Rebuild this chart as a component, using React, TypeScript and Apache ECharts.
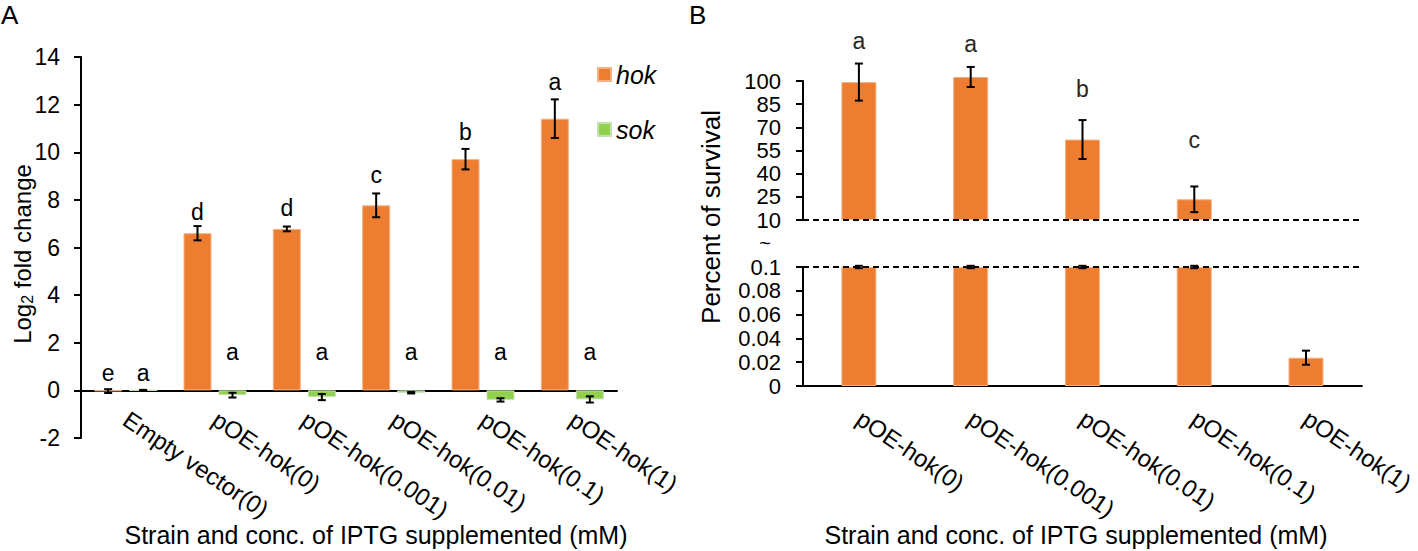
import React, { useEffect, useRef } from 'react';
import * as echarts from 'echarts';

// ---------- Panel A data ----------
const categoriesA = ['Empty vector(0)', 'pOE-hok(0)', 'pOE-hok(0.001)', 'pOE-hok(0.01)', 'pOE-hok(0.1)', 'pOE-hok(1)'];
const hokValues = [-0.03, 6.6, 6.78, 7.77, 9.71, 11.41];
const hokErrors = [0.08, 0.3, 0.1, 0.5, 0.43, 0.81];
const sokValues = [0, -0.2, -0.28, -0.1, -0.4, -0.38];
const sokErrors = [0.02, 0.1, 0.13, 0.03, 0.07, 0.13];
const hokLetters = ['e', 'd', 'd', 'c', 'b', 'a'];
const hokLetterAt = [0.75, 7.5, 7.67, 9.05, 10.85, 12.95];
const sokLetters = ['a', 'a', 'a', 'a', 'a', 'a'];
const sokLetterAt = [0.75, 1.63, 1.63, 1.63, 1.63, 1.63];
const yTicksA = { min: -2, max: 14, interval: 2 };

// ---------- Panel B data ----------
const categoriesB = ['pOE-hok(0)', 'pOE-hok(0.001)', 'pOE-hok(0.01)', 'pOE-hok(0.1)', 'pOE-hok(1)'];
const survivalUpper = [99.3, 102.6, 62.1, 23.4, null];
const survivalUpperErr = [12, 6.5, 12.6, 8.3, null];
const survivalLower = [0.1, 0.1, 0.1, 0.1, 0.0238];
const survivalLowerErr = [0.001, 0.001, 0.001, 0.001, 0.0059];
const survivalLetters = ['a', 'a', 'b', 'c', ''];
const survivalLetterAt = [126, 124, 95, 61.7, null];
const yTicksBUpper = { min: 10, max: 100, interval: 15 };
const yTicksBLower = { min: 0, max: 0.1, interval: 0.02 };

const FONT = '"Liberation Sans", Arial, Helvetica, sans-serif';
const ORANGE = '#ED7D31';
const GREEN = '#92D050';

function errorSeries(name: string, xi: number, yi: number, vals: (number | null)[], errs: (number | null)[], offset: number) {
  return {
    type: 'custom',
    name,
    xAxisIndex: xi,
    yAxisIndex: yi,
    clip: false,
    z: 5,
    data: vals.map((v, i) => (v == null ? [i, NaN, NaN] : [i, v, errs[i]])),
    renderItem: (params: any, api: any) => {
      const i = api.value(0);
      const v = api.value(1);
      const e = api.value(2);
      if (isNaN(v)) return null;
      const top = api.coord([i, v + e]);
      const bot = api.coord([i, v - e]);
      const x = top[0] + offset;
      const st = { stroke: '#000', lineWidth: 2 };
      return {
        type: 'group',
        children: [
          { type: 'line', shape: { x1: x, y1: top[1], x2: x, y2: bot[1] }, style: st },
          { type: 'line', shape: { x1: x - 4, y1: top[1], x2: x + 4, y2: top[1] }, style: st },
          { type: 'line', shape: { x1: x - 4, y1: bot[1], x2: x + 4, y2: bot[1] }, style: st },
        ],
      };
    },
  };
}

function letterSeries(name: string, xi: number, yi: number, at: (number | null)[], letters: string[], offset: number, color: string) {
  return {
    type: 'custom',
    name,
    xAxisIndex: xi,
    yAxisIndex: yi,
    clip: false,
    z: 6,
    data: at.map((v, i) => (v == null ? [i, NaN] : [i, v])),
    renderItem: (params: any, api: any) => {
      const i = api.value(0);
      const v = api.value(1);
      if (isNaN(v)) return null;
      const p = api.coord([i, v]);
      return {
        type: 'text',
        x: p[0] + offset,
        y: p[1],
        style: {
          text: letters[params.dataIndex],
          fontSize: 23,
          fontFamily: FONT,
          fill: color,
          align: 'center',
          verticalAlign: 'middle',
        },
      };
    },
  };
}

const axisLineStyle = { show: true, lineStyle: { color: '#000', width: 2 } };
const tickStyle = { show: true, length: 7, lineStyle: { color: '#000', width: 2 } };
const yLabel = (size: number, margin: number) => ({
  fontSize: size, lineHeight: size, color: '#000', fontFamily: FONT, margin, showMinLabel: true, showMaxLabel: true, hideOverlap: false,
});
const xLabel = { fontSize: 24, color: '#000', fontFamily: FONT, rotate: -34, interval: 0 };

export default function App() {
  const ref = useRef<HTMLDivElement>(null);
  useEffect(() => {
    if (!ref.current) return;
    const chart = echarts.init(ref.current, null, { renderer: 'svg' });
    const option: any = {
      animation: false,
      textStyle: { fontFamily: FONT },
      legend: {
        data: ['hok', 'sok'],
        orient: 'vertical',
        left: 592,
        top: 57,
        itemWidth: 13,
        itemHeight: 13,
        itemGap: 30,
        icon: 'rect',
        textStyle: { fontSize: 25, fontStyle: 'italic', color: '#000', fontFamily: FONT },
      },
      grid: [
        { left: 81, top: 57, width: 536, height: 381 },
        { left: 803, top: 81, width: 559, height: 139 },
        { left: 803, top: 267, width: 559, height: 119 },
      ],
      xAxis: [
        {
          gridIndex: 0, type: 'category', data: categoriesA,
          axisTick: { show: false }, axisLine: { ...axisLineStyle, onZero: true }, axisLabel: { ...xLabel, margin: -21 },
        },
        { gridIndex: 1, type: 'category', data: categoriesB, show: false },
        {
          gridIndex: 2, type: 'category', data: categoriesB,
          axisTick: { show: false }, axisLine: axisLineStyle, axisLabel: { ...xLabel, margin: 30 },
        },
      ],
      yAxis: [
        {
          gridIndex: 0, type: 'value', ...yTicksA,
          splitLine: { show: false }, axisLine: axisLineStyle, axisTick: tickStyle,
          axisLabel: yLabel(23, 21),
        },
        {
          gridIndex: 1, type: 'value', ...yTicksBUpper, startValue: yTicksBUpper.min,
          splitLine: { show: false }, axisLine: axisLineStyle, axisTick: tickStyle,
          axisLabel: yLabel(22, 22),
        },
        {
          gridIndex: 2, type: 'value', ...yTicksBLower,
          splitLine: { show: false }, axisLine: axisLineStyle, axisTick: tickStyle,
          axisLabel: { ...yLabel(22, 22), formatter: (v: number) => String(Math.round(v * 100) / 100) },
        },
      ],
      series: [
        {
          name: 'hok', type: 'bar', xAxisIndex: 0, yAxisIndex: 0,
          data: hokValues, barWidth: 28, barGap: '25%',
          itemStyle: { color: ORANGE, borderColor: '#F4B183', borderWidth: 1 },
        },
        {
          name: 'sok', type: 'bar', xAxisIndex: 0, yAxisIndex: 0,
          data: sokValues, barWidth: 28, barGap: '25%',
          itemStyle: { color: GREEN, borderColor: '#C5E0B4', borderWidth: 1 },
        },
        errorSeries('hokErr', 0, 0, hokValues, hokErrors, -17.5),
        errorSeries('sokErr', 0, 0, sokValues, sokErrors, 17.5),
        letterSeries('hokLetters', 0, 0, hokLetterAt, hokLetters, -17.5, '#000'),
        letterSeries('sokLetters', 0, 0, sokLetterAt, sokLetters, 17.5, '#000'),
        {
          name: 'survivalUpper', type: 'bar', xAxisIndex: 1, yAxisIndex: 1,
          data: survivalUpper.map((v) => (v == null ? '-' : v)), barWidth: 35, clip: false,
          itemStyle: { color: ORANGE, borderColor: '#F4B183', borderWidth: 1 },
          markLine: {
            silent: true, symbol: 'none', label: { show: false },
            lineStyle: { color: '#000', width: 2, type: [6, 4] },
            data: [{ yAxis: yTicksBUpper.min }],
          },
        },
        {
          name: 'survivalLower', type: 'bar', xAxisIndex: 2, yAxisIndex: 2,
          data: survivalLower, barWidth: 35,
          itemStyle: { color: ORANGE, borderColor: '#F4B183', borderWidth: 1 },
          markLine: {
            silent: true, symbol: 'none', label: { show: false },
            lineStyle: { color: '#000', width: 2, type: [6, 4] },
            data: [{ yAxis: yTicksBLower.max }],
          },
        },
        errorSeries('upperErr', 1, 1, survivalUpper, survivalUpperErr, 0),
        errorSeries('lowerErr', 2, 2, survivalLower, survivalLowerErr, 0),
        letterSeries('survLetters', 1, 1, survivalLetterAt, survivalLetters, 0, '#262626'),
      ],
      graphic: [
        { type: 'text', x: 1, y: 2, style: { text: 'A', fontSize: 26, fontFamily: FONT, fill: '#000' } },
        { type: 'text', x: 689, y: 2, style: { text: 'B', fontSize: 26, fontFamily: FONT, fill: '#000' } },
        {
          type: 'text', x: 22, y: 254, rotation: Math.PI / 2,
          style: {
            text: '{n|Log}{s|2}{n| fold change}',
            align: 'center', verticalAlign: 'middle', fill: '#000', fontFamily: FONT,
            rich: {
              n: { fontSize: 24, fontFamily: FONT, fill: '#000' },
              s: { fontSize: 16, fontFamily: FONT, fill: '#000', padding: [11, 0, 0, 0] },
            },
          },
        },
        {
          type: 'text', x: 711, y: 217, rotation: Math.PI / 2,
          style: { text: 'Percent of survival', fontSize: 26, fontFamily: FONT, fill: '#000', align: 'center', verticalAlign: 'middle' },
        },
        { type: 'text', x: 765, y: 243, style: { text: '~', fontSize: 20, fontFamily: FONT, fill: '#000', align: 'center', verticalAlign: 'middle' } },
        {
          type: 'text', x: 376, y: 535,
          style: { text: 'Strain and conc. of IPTG supplemented (mM)', fontSize: 25, fontFamily: FONT, fill: '#000', align: 'center', verticalAlign: 'middle' },
        },
        {
          type: 'text', x: 1076, y: 535,
          style: { text: 'Strain and conc. of IPTG supplemented (mM)', fontSize: 25, fontFamily: FONT, fill: '#000', align: 'center', verticalAlign: 'middle' },
        },
      ],
    };
    chart.setOption(option);
    return () => chart.dispose();
  }, []);
  return <div ref={ref} style={{ position: 'fixed', left: 0, top: 0, width: 1418, height: 551, background: '#fff' }} />;
}
